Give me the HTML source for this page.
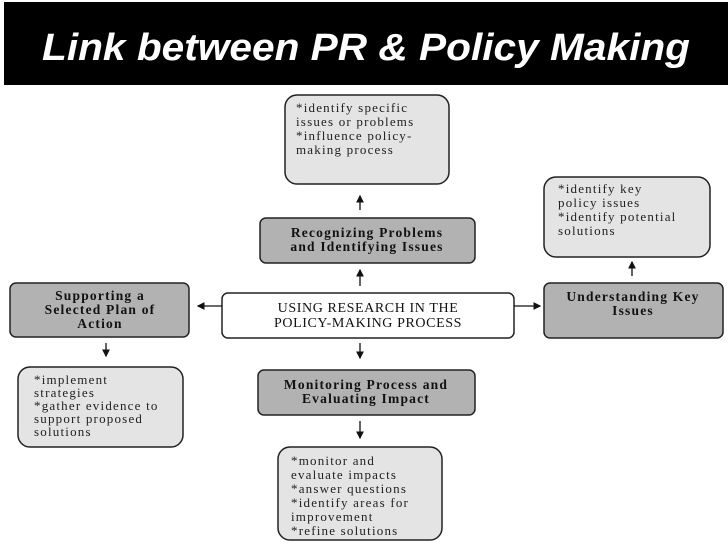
<!DOCTYPE html>
<html><head><meta charset="utf-8"><style>
html,body{margin:0;padding:0;background:#fff;width:728px;height:546px;overflow:hidden}
svg{display:block}
.t{font-family:"Liberation Serif",serif;font-size:13px;letter-spacing:1.2px;fill:#222}
.b{font-family:"Liberation Serif",serif;font-size:13.5px;letter-spacing:1.2px;font-weight:bold;fill:#111}
.c{font-family:"Liberation Serif",serif;font-size:14px;letter-spacing:0.6px;fill:#111}
</style></head><body>
<svg width="728" height="546" viewBox="0 0 728 546" xmlns="http://www.w3.org/2000/svg">
<defs>
<marker id="a" markerWidth="6" markerHeight="6" refX="5" refY="3" orient="auto"><path d="M0,0 L6,3 L0,6 z" fill="#111"/></marker>
</defs>
<rect x="4" y="2" width="724" height="83" fill="#000"/>
<text x="42" y="60" textLength="648" lengthAdjust="spacingAndGlyphs" font-family="Liberation Sans, sans-serif" font-size="38" font-weight="bold" font-style="italic" fill="#fff">Link between PR &amp; Policy Making</text>

<g stroke="#222" stroke-width="1.5">
<rect x="285" y="95" width="164" height="89" rx="12" fill="#e4e4e4"/>
<rect x="260" y="218" width="215" height="45" rx="6" fill="#b2b2b2"/>
<rect x="544" y="177" width="166" height="80" rx="12" fill="#e4e4e4"/>
<rect x="10" y="283" width="179" height="54" rx="6" fill="#b2b2b2"/>
<rect x="222" y="293" width="292" height="45" rx="6" fill="#fff"/>
<rect x="544" y="283" width="179" height="55" rx="6" fill="#b2b2b2"/>
<rect x="18" y="367" width="165" height="80" rx="12" fill="#e4e4e4"/>
<rect x="258" y="370" width="217" height="45" rx="6" fill="#b2b2b2"/>
<rect x="278" y="447" width="164" height="93" rx="12" fill="#e4e4e4"/>
</g>
<g stroke="#111" stroke-width="1.3" marker-end="url(#a)">
<line x1="360" y1="210" x2="360" y2="196"/>
<line x1="360" y1="286" x2="360" y2="270"/>
<line x1="632" y1="276" x2="632" y2="262"/>
<line x1="222" y1="306" x2="198" y2="306"/>
<line x1="514" y1="306" x2="540" y2="306"/>
<line x1="106" y1="343" x2="106" y2="356"/>
<line x1="360" y1="343" x2="360" y2="358"/>
<line x1="360" y1="421" x2="360" y2="438"/>
</g>

<text class="t" x="296" y="112">*identify specific</text>
<text class="t" x="296" y="126">issues or problems</text>
<text class="t" x="296" y="140">*influence policy-</text>
<text class="t" x="296" y="154">making process</text>

<text class="b" x="367" y="237" text-anchor="middle">Recognizing Problems</text>
<text class="b" x="367" y="251" text-anchor="middle">and Identifying Issues</text>

<text class="t" x="558" y="193">*identify key</text>
<text class="t" x="558" y="207">policy issues</text>
<text class="t" x="558" y="221">*identify potential</text>
<text class="t" x="558" y="235">solutions</text>

<text class="b" x="100" y="300" text-anchor="middle">Supporting a</text>
<text class="b" x="100" y="314" text-anchor="middle">Selected Plan of</text>
<text class="b" x="100" y="328" text-anchor="middle">Action</text>

<text class="c" x="368" y="312" text-anchor="middle">USING RESEARCH IN THE</text>
<text class="c" x="368" y="327" text-anchor="middle">POLICY-MAKING PROCESS</text>

<text class="b" x="633" y="301" text-anchor="middle">Understanding Key</text>
<text class="b" x="633" y="315" text-anchor="middle">Issues</text>

<text class="t" x="34" y="384">*implement</text>
<text class="t" x="34" y="397">strategies</text>
<text class="t" x="34" y="410">*gather evidence to</text>
<text class="t" x="34" y="423">support proposed</text>
<text class="t" x="34" y="436">solutions</text>

<text class="b" x="366" y="389" text-anchor="middle">Monitoring Process and</text>
<text class="b" x="366" y="403" text-anchor="middle">Evaluating Impact</text>

<text class="t" x="291" y="465">*monitor and</text>
<text class="t" x="291" y="479">evaluate impacts</text>
<text class="t" x="291" y="493">*answer questions</text>
<text class="t" x="291" y="507">*identify areas for</text>
<text class="t" x="291" y="521">improvement</text>
<text class="t" x="291" y="535">*refine solutions</text>
</svg>
</body></html>
